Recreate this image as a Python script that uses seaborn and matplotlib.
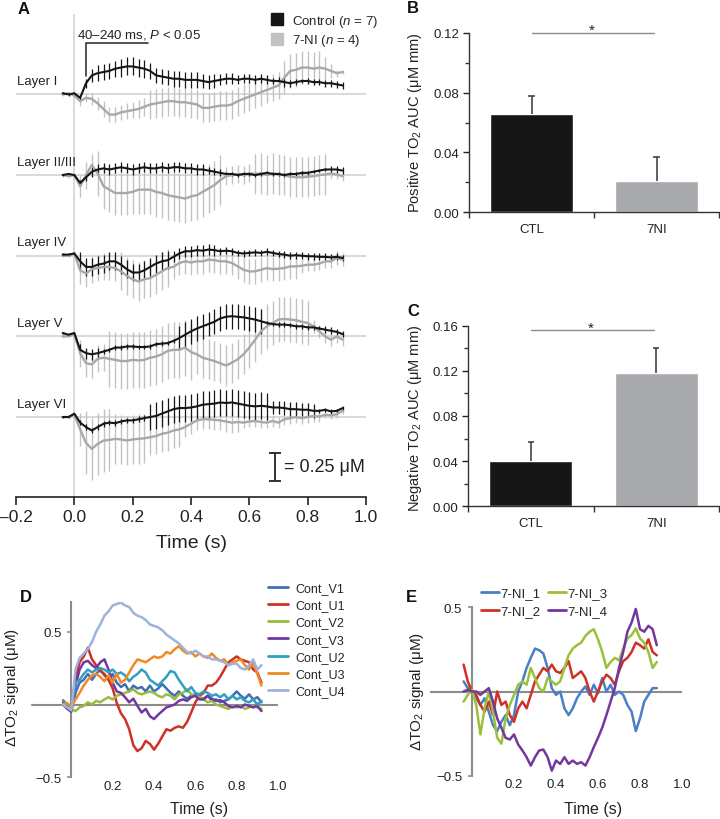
import numpy as np
import pandas as pd
import matplotlib
matplotlib.use("Agg")
import matplotlib.pyplot as plt
from matplotlib.lines import Line2D
import seaborn as sns

# ---------------- data ----------------
# panel A : mean +/- sem traces per cortical layer (uM), sampled every 20 ms
t_a = [-0.04, -0.02, 0.00, 0.02, 0.04, 0.06, 0.08, 0.10, 0.12, 0.14,
       0.16, 0.18, 0.20, 0.22, 0.24, 0.26, 0.28, 0.30, 0.32, 0.34,
       0.36, 0.38, 0.40, 0.42, 0.44, 0.46, 0.48, 0.50, 0.52, 0.54,
       0.56, 0.58, 0.60, 0.62, 0.64, 0.66, 0.68, 0.70, 0.72, 0.74,
       0.76, 0.78, 0.80, 0.82, 0.84, 0.86, 0.88, 0.90, 0.92]

layers = ["Layer I", "Layer II/III", "Layer IV", "Layer V", "Layer VI"]

l1_ctl = [0.01, 0.00, 0.01, -0.03, 0.10, 0.17, 0.19, 0.20, 0.21, 0.23, 0.24, 0.25, 0.25, 0.24, 0.23, 0.21, 0.17,
          0.16, 0.15, 0.14, 0.14, 0.13, 0.13, 0.13, 0.12, 0.11, 0.12, 0.13, 0.14, 0.14, 0.13, 0.14, 0.14, 0.13,
          0.14, 0.13, 0.12, 0.12, 0.11, 0.10, 0.11, 0.12, 0.12, 0.11, 0.11, 0.10, 0.10, 0.09, 0.08]
l1_ctl_sem = [0.01, 0.01, 0.01, 0.02, 0.04, 0.06, 0.07, 0.07, 0.07, 0.07, 0.08, 0.08, 0.08, 0.08, 0.08, 0.07, 0.07,
              0.07, 0.07, 0.07, 0.07, 0.07, 0.07, 0.07, 0.06, 0.06, 0.06, 0.05, 0.05, 0.05, 0.04, 0.04, 0.04, 0.04,
              0.04, 0.04, 0.03, 0.04, 0.04, 0.03, 0.03, 0.02, 0.03, 0.03, 0.03, 0.03, 0.03, 0.03, 0.03]
l1_ni = [0.00, 0.01, -0.01, -0.06, -0.03, -0.04, -0.08, -0.13, -0.18, -0.18, -0.16, -0.15, -0.14, -0.13, -0.11,
         -0.09, -0.08, -0.07, -0.06, -0.06, -0.07, -0.07, -0.08, -0.09, -0.12, -0.12, -0.11, -0.10, -0.10, -0.09,
         -0.06, -0.04, -0.02, 0.00, 0.02, 0.04, 0.06, 0.08, 0.15, 0.21, 0.22, 0.24, 0.24, 0.23, 0.24, 0.23, 0.21,
         0.19, 0.20]
l1_ni_sem = [0.01, 0.01, 0.01, 0.04, 0.04, 0.05, 0.06, 0.07, 0.07, 0.07, 0.07, 0.07, 0.07, 0.08, 0.08, 0.13, 0.13,
             0.13, 0.13, 0.13, 0.13, 0.13, 0.13, 0.13, 0.13, 0.13, 0.13, 0.13, 0.13, 0.13, 0.13, 0.13, 0.13, 0.12,
             0.12, 0.12, 0.12, 0.12, 0.15, 0.15, 0.15, 0.15, 0.15, 0.15, 0.15, 0.10, 0.06, 0.03, 0.02]

l2_ctl = [0.00, 0.01, 0.00, -0.07, -0.02, 0.03, 0.05, 0.06, 0.05, 0.06, 0.07, 0.06, 0.05, 0.06, 0.07, 0.06, 0.06,
          0.07, 0.06, 0.07, 0.07, 0.06, 0.06, 0.05, 0.05, 0.04, 0.03, 0.02, 0.01, 0.01, 0.00, 0.01, 0.01, 0.00,
          0.01, 0.02, 0.01, 0.01, 0.00, 0.01, 0.01, 0.02, 0.02, 0.03, 0.04, 0.05, 0.05, 0.05, 0.04]
l2_ctl_sem = [0.01, 0.01, 0.01, 0.03, 0.03, 0.045, 0.045, 0.045, 0.045, 0.045, 0.045, 0.045, 0.045, 0.045, 0.045,
              0.045, 0.045, 0.045, 0.045, 0.045, 0.045, 0.045, 0.045, 0.045, 0.045, 0.03, 0.03, 0.03, 0.015, 0.015,
              0.015, 0.015, 0.015, 0.015, 0.015, 0.015, 0.015, 0.015, 0.015, 0.015, 0.015, 0.015, 0.015, 0.015,
              0.015, 0.015, 0.03, 0.03, 0.03]
l2_ni = [0.00, -0.01, 0.00, -0.10, 0.00, 0.09, 0.015, -0.10, -0.13, -0.16, -0.16, -0.16, -0.15, -0.13, -0.13, -0.13,
         -0.15, -0.16, -0.18, -0.19, -0.20, -0.21, -0.19, -0.18, -0.15, -0.12, -0.09, -0.045, -0.01, 0.00, 0.01,
         0.00, 0.015, 0.01, 0.015, 0.00, 0.015, 0.005, 0.00, -0.015, -0.02, -0.02, -0.015, -0.01, 0.00, 0.005,
         0.015, 0.005, -0.01]
l2_ni_sem = [0.02, 0.02, 0.02, 0.10, 0.12, 0.10, 0.20, 0.20, 0.20, 0.20, 0.20, 0.20, 0.20, 0.22, 0.22, 0.22, 0.22,
             0.22, 0.22, 0.22, 0.22, 0.22, 0.22, 0.22, 0.22, 0.22, 0.22, 0.22, 0.08, 0.08, 0.08, 0.08, 0.08, 0.18,
             0.18, 0.18, 0.18, 0.18, 0.18, 0.18, 0.18, 0.18, 0.18, 0.18, 0.18, 0.18, 0.04, 0.04, 0.04]

l4_ctl = [0.01, 0.01, 0.02, -0.05, -0.10, -0.10, -0.08, -0.07, -0.05, -0.05, -0.08, -0.12, -0.15, -0.15, -0.13,
          -0.10, -0.07, -0.05, -0.04, -0.01, 0.02, 0.04, 0.04, 0.05, 0.045, 0.055, 0.05, 0.04, 0.045, 0.04, 0.025,
          0.02, 0.025, 0.03, 0.025, 0.035, 0.025, 0.015, 0.01, 0.00, 0.005, 0.00, -0.005, -0.005, -0.01, -0.01,
          -0.015, -0.01, -0.02]
l4_ctl_sem = [0.01, 0.01, 0.01, 0.08, 0.08, 0.08, 0.08, 0.08, 0.08, 0.08, 0.08, 0.08, 0.08, 0.08, 0.08, 0.08, 0.08,
              0.08, 0.08, 0.05, 0.05, 0.05, 0.05, 0.05, 0.05, 0.05, 0.05, 0.03, 0.03, 0.03, 0.03, 0.03, 0.03, 0.03,
              0.03, 0.03, 0.03, 0.03, 0.03, 0.03, 0.03, 0.03, 0.03, 0.03, 0.03, 0.03, 0.03, 0.03, 0.03]
l4_ni = [0.00, 0.00, 0.02, -0.13, -0.16, -0.12, -0.11, -0.10, -0.10, -0.11, -0.14, -0.18, -0.21, -0.23, -0.21, -0.20,
         -0.17, -0.14, -0.11, -0.10, -0.065, -0.05, -0.06, -0.05, -0.05, -0.035, -0.04, -0.05, -0.05, -0.065,
         -0.095, -0.125, -0.14, -0.14, -0.125, -0.11, -0.12, -0.115, -0.11, -0.095, -0.095, -0.09, -0.08, -0.08,
         -0.07, -0.05, -0.05, -0.02, -0.035]
l4_ni_sem = [0.01, 0.01, 0.01, 0.12, 0.12, 0.12, 0.12, 0.12, 0.12, 0.12, 0.17, 0.17, 0.17, 0.17, 0.17, 0.17, 0.17,
             0.17, 0.17, 0.11, 0.11, 0.11, 0.11, 0.11, 0.11, 0.11, 0.11, 0.11, 0.11, 0.11, 0.11, 0.11, 0.11, 0.11,
             0.11, 0.11, 0.11, 0.11, 0.11, 0.11, 0.11, 0.06, 0.06, 0.06, 0.06, 0.06, 0.06, 0.06, 0.06]

l5_ctl = [0.03, 0.015, 0.03, -0.12, -0.15, -0.16, -0.15, -0.135, -0.12, -0.10, -0.10, -0.09, -0.09, -0.095, -0.095,
          -0.09, -0.07, -0.065, -0.06, -0.04, -0.015, 0.015, 0.045, 0.07, 0.09, 0.11, 0.13, 0.16, 0.175, 0.18,
          0.175, 0.17, 0.16, 0.15, 0.135, 0.12, 0.11, 0.105, 0.105, 0.10, 0.09, 0.09, 0.08, 0.08, 0.07, 0.06,
          0.05, 0.04, 0.02]
l5_ctl_sem = [0.01, 0.01, 0.01, 0.05, 0.05, 0.05, 0.05, 0.02, 0.02, 0.02, 0.02, 0.02, 0.02, 0.02, 0.02, 0.02, 0.02,
              0.02, 0.02, 0.02, 0.11, 0.11, 0.11, 0.11, 0.11, 0.11, 0.11, 0.11, 0.11, 0.11, 0.11, 0.11, 0.11,
              0.11, 0.11, 0.02, 0.02, 0.02, 0.02, 0.02, 0.02, 0.02, 0.02, 0.02, 0.02, 0.03, 0.03, 0.03, 0.03]
l5_ni = [0.00, 0.00, 0.02, -0.15, -0.24, -0.25, -0.20, -0.19, -0.20, -0.21, -0.22, -0.22, -0.21, -0.215, -0.21,
         -0.19, -0.18, -0.16, -0.13, -0.12, -0.12, -0.10, -0.14, -0.16, -0.19, -0.205, -0.22, -0.24, -0.26, -0.235,
         -0.205, -0.16, -0.10, -0.03, 0.045, 0.09, 0.12, 0.15, 0.155, 0.15, 0.145, 0.13, 0.12, 0.09, 0.045, 0.00,
         -0.03, 0.00, -0.03]
l5_ni_sem = [0.01, 0.01, 0.01, 0.12, 0.12, 0.12, 0.12, 0.12, 0.25, 0.25, 0.25, 0.25, 0.25, 0.25, 0.25, 0.25, 0.25,
             0.25, 0.25, 0.25, 0.25, 0.25, 0.25, 0.18, 0.18, 0.18, 0.18, 0.18, 0.18, 0.18, 0.18, 0.18, 0.18, 0.20,
             0.20, 0.20, 0.20, 0.20, 0.20, 0.20, 0.20, 0.20, 0.20, 0.06, 0.06, 0.06, 0.06, 0.06, 0.06]

l6_ctl = [0.00, 0.00, 0.03, -0.05, -0.09, -0.12, -0.09, -0.06, -0.05, -0.055, -0.04, -0.03, -0.03, -0.02, -0.01,
          0.00, 0.01, 0.03, 0.05, 0.07, 0.08, 0.08, 0.085, 0.095, 0.11, 0.115, 0.12, 0.13, 0.125, 0.13, 0.12, 0.11,
          0.10, 0.095, 0.10, 0.095, 0.085, 0.085, 0.08, 0.07, 0.07, 0.065, 0.065, 0.055, 0.055, 0.065, 0.05,
          0.055, 0.08]
l6_ctl_sem = [0.01, 0.01, 0.01, 0.025, 0.025, 0.025, 0.025, 0.025, 0.025, 0.025, 0.025, 0.025, 0.025, 0.025, 0.025,
              0.12, 0.12, 0.12, 0.12, 0.12, 0.12, 0.12, 0.12, 0.12, 0.12, 0.12, 0.12, 0.12, 0.12, 0.12, 0.12, 0.12,
              0.12, 0.12, 0.12, 0.12, 0.06, 0.06, 0.06, 0.06, 0.06, 0.06, 0.06, 0.06, 0.02, 0.02, 0.02, 0.02, 0.02]
l6_ni = [0.00, 0.00, 0.02, -0.11, -0.23, -0.285, -0.24, -0.21, -0.205, -0.195, -0.20, -0.21, -0.20, -0.195, -0.19,
         -0.18, -0.17, -0.15, -0.14, -0.12, -0.11, -0.09, -0.06, -0.03, -0.02, -0.02, -0.025, -0.03, -0.04, -0.05,
         -0.045, -0.05, -0.04, -0.035, -0.045, -0.05, -0.035, -0.05, -0.02, -0.01, 0.00, -0.01, 0.00, 0.01,
         0.005, 0.02, 0.015, 0.025, 0.055]
l6_ni_sem = [0.01, 0.01, 0.01, 0.15, 0.28, 0.28, 0.28, 0.28, 0.28, 0.22, 0.22, 0.22, 0.22, 0.22, 0.22, 0.16, 0.16,
             0.16, 0.16, 0.16, 0.16, 0.09, 0.09, 0.09, 0.09, 0.09, 0.09, 0.09, 0.09, 0.09, 0.09, 0.05, 0.05, 0.05,
             0.05, 0.05, 0.05, 0.05, 0.05, 0.05, 0.05, 0.05, 0.05, 0.05, 0.05, 0.03, 0.03, 0.03, 0.03]

ctl_means = [l1_ctl, l2_ctl, l4_ctl, l5_ctl, l6_ctl]
ctl_sems = [l1_ctl_sem, l2_ctl_sem, l4_ctl_sem, l5_ctl_sem, l6_ctl_sem]
ni_means = [l1_ni, l2_ni, l4_ni, l5_ni, l6_ni]
ni_sems = [l1_ni_sem, l2_ni_sem, l4_ni_sem, l5_ni_sem, l6_ni_sem]

# panels B, C : area under curve
groups = ["CTL", "7NI"]
pos_auc = [0.066, 0.021]
pos_sem = [0.012, 0.016]
neg_auc = [0.040, 0.118]
neg_sem = [0.017, 0.022]
b_yticks = [0.00, 0.04, 0.08, 0.12]
c_yticks = [0.00, 0.04, 0.08, 0.12, 0.16]

# panel D : individual control traces
t_d = t_a
cont_names = ["Cont_V1", "Cont_U1", "Cont_V2", "Cont_V3", "Cont_U2", "Cont_U3", "Cont_U4"]
cont_v1 = [0.02, 0.0, -0.04, 0.08, 0.15, 0.17, 0.21, 0.17, 0.21, 0.24, 0.20, 0.17, 0.21, 0.15, 0.12, 0.14, 0.09,
           0.13, 0.11, 0.12, 0.09, 0.13, 0.09, 0.11, 0.14, 0.11, 0.08, 0.06, 0.09, 0.06, 0.04, 0.06, 0.07, 0.05,
           0.04, 0.06, 0.025, 0.035, 0.015, 0.025, 0.035, 0.06, 0.09, 0.06, 0.04, 0.07, 0.035, 0.05, 0.015]
cont_u1 = [0.01, 0.0, -0.02, 0.17, 0.29, 0.33, 0.39, 0.31, 0.27, 0.23, 0.21, 0.17, 0.11, 0.01, -0.06, -0.10, -0.17,
           -0.28, -0.32, -0.30, -0.25, -0.27, -0.31, -0.27, -0.22, -0.17, -0.18, -0.16, -0.15, -0.16, -0.12,
           -0.055, 0.015, 0.06, 0.08, 0.13, 0.13, 0.15, 0.19, 0.24, 0.29, 0.31, 0.33, 0.31, 0.30, 0.29, 0.24,
           0.22, 0.15]
cont_v2 = [0.0, -0.02, -0.03, -0.045, -0.02, -0.01, 0.015, 0.0, 0.025, 0.015, 0.035, 0.05, 0.035, 0.06, 0.07, 0.08,
           0.09, 0.105, 0.08, 0.07, 0.08, 0.09, 0.08, 0.06, 0.05, 0.07, 0.06, 0.035, 0.07, 0.08, 0.105, 0.07, 0.06,
           0.05, 0.035, 0.015, 0.025, 0.0, -0.01, -0.02, -0.03, -0.01, -0.02, -0.01, -0.03, -0.02, -0.01, -0.02,
           -0.03]
cont_v3 = [0.0, -0.03, -0.05, 0.13, 0.24, 0.29, 0.30, 0.27, 0.25, 0.29, 0.31, 0.24, 0.15, 0.09, 0.08, 0.05, 0.015,
           0.04, -0.01, -0.055, -0.03, -0.08, -0.10, -0.07, -0.045, -0.02, -0.01, 0.0, 0.025, 0.035, 0.025, 0.05,
           0.06, 0.035, 0.035, 0.06, 0.04, 0.025, 0.03, 0.015, -0.01, -0.02, -0.01, -0.02, 0.0, -0.01, -0.02,
           -0.01, -0.045]
cont_u2 = [0.03, 0.0, -0.03, 0.15, 0.17, 0.21, 0.24, 0.22, 0.24, 0.25, 0.24, 0.22, 0.24, 0.21, 0.22, 0.20, 0.16,
           0.19, 0.21, 0.24, 0.22, 0.17, 0.15, 0.13, 0.16, 0.19, 0.23, 0.22, 0.17, 0.13, 0.09, 0.12, 0.08, 0.07,
           0.09, 0.08, 0.06, 0.07, 0.05, 0.07, 0.035, 0.06, 0.035, 0.05, 0.025, 0.015, 0.035, 0.0, 0.025]
cont_u3 = [0.0, 0.01, -0.02, 0.035, 0.08, 0.13, 0.17, 0.20, 0.21, 0.19, 0.16, 0.20, 0.15, 0.21, 0.15, 0.17, 0.22,
           0.27, 0.31, 0.30, 0.29, 0.31, 0.33, 0.32, 0.33, 0.36, 0.35, 0.38, 0.40, 0.37, 0.35, 0.36, 0.33, 0.35,
           0.33, 0.32, 0.35, 0.32, 0.30, 0.31, 0.27, 0.29, 0.30, 0.31, 0.27, 0.24, 0.29, 0.21, 0.13]
cont_u4 = [0.0, -0.02, -0.04, 0.24, 0.32, 0.35, 0.38, 0.43, 0.50, 0.55, 0.61, 0.64, 0.68, 0.69, 0.70, 0.68, 0.67,
           0.63, 0.61, 0.60, 0.58, 0.55, 0.54, 0.53, 0.51, 0.48, 0.46, 0.44, 0.42, 0.39, 0.36, 0.35, 0.37, 0.35,
           0.33, 0.33, 0.31, 0.31, 0.30, 0.29, 0.27, 0.28, 0.28, 0.25, 0.24, 0.27, 0.31, 0.24, 0.27]
cont_traces = [cont_v1, cont_u1, cont_v2, cont_v3, cont_u2, cont_u3, cont_u4]
cont_colors = ["#3f6fb6", "#cf3126", "#9bbb3b", "#7338a0", "#2f9fc2", "#f08a24", "#9db2de"]

# panel E : individual 7-NI traces
t_e = [-0.04, -0.02, 0.00, 0.02, 0.04, 0.06, 0.08, 0.10, 0.12, 0.14,
       0.16, 0.18, 0.20, 0.22, 0.24, 0.26, 0.28, 0.30, 0.32, 0.34,
       0.36, 0.38, 0.40, 0.42, 0.44, 0.46, 0.48, 0.50, 0.52, 0.54,
       0.56, 0.58, 0.60, 0.62, 0.64, 0.66, 0.68, 0.70, 0.72, 0.74,
       0.76, 0.78, 0.80, 0.82, 0.84, 0.86, 0.88]
ni_names = ["7-NI_1", "7-NI_2", "7-NI_3", "7-NI_4"]
ni_1 = [0.06, 0.02, 0.0, -0.04, -0.08, -0.04, -0.12, -0.20, -0.235, -0.18, -0.14, -0.20, -0.14, 0.0, 0.06, 0.14,
        0.20, 0.255, 0.245, 0.225, 0.14, 0.02, -0.02, 0.0, -0.10, -0.14, -0.10, -0.04, 0.0, 0.03, -0.02, 0.04,
        -0.01, 0.08, 0.0, 0.04, -0.02, 0.0, -0.02, -0.08, -0.12, -0.235, -0.16, -0.06, -0.02, 0.02, 0.02]
ni_2 = [0.16, 0.06, 0.0, -0.02, -0.08, -0.12, -0.06, -0.14, 0.0, -0.08, -0.06, -0.14, -0.18, -0.10, -0.06, -0.10,
        -0.02, 0.06, 0.10, 0.14, 0.12, 0.16, 0.12, 0.11, 0.14, 0.18, 0.08, 0.10, 0.12, 0.08, 0.0, -0.06, 0.0, 0.06,
        0.10, 0.08, 0.04, 0.12, 0.18, 0.20, 0.235, 0.29, 0.275, 0.255, 0.31, 0.235, 0.215]
ni_3 = [-0.06, -0.02, 0.01, -0.08, -0.255, -0.10, 0.0, -0.12, -0.275, -0.31, -0.16, -0.08, -0.02, 0.04, 0.06, 0.04,
        0.14, 0.08, 0.02, 0.0, 0.08, 0.06, 0.04, 0.06, 0.14, 0.215, 0.255, 0.275, 0.29, 0.33, 0.355, 0.37, 0.31,
        0.235, 0.14, 0.175, 0.20, 0.185, 0.255, 0.315, 0.335, 0.375, 0.315, 0.29, 0.235, 0.14, 0.175]
ni_4 = [0.0, 0.01, 0.0, 0.0, -0.02, 0.0, 0.02, -0.06, -0.16, -0.215, -0.275, -0.285, -0.255, -0.315, -0.35, -0.39,
        -0.44, -0.39, -0.35, -0.345, -0.39, -0.47, -0.41, -0.43, -0.39, -0.43, -0.41, -0.43, -0.42, -0.44, -0.39,
        -0.33, -0.275, -0.215, -0.14, -0.06, 0.02, 0.14, 0.235, 0.355, 0.41, 0.49, 0.37, 0.355, 0.39, 0.37, 0.275]
ni_traces = [ni_1, ni_2, ni_3, ni_4]
ni_colors = ["#4a7fc8", "#cf3126", "#9bc03c", "#7338a0"]

tick_labels_de = ["0.2", "0.4", "0.6", "0.8", "1.0"]

# ---------------- style ----------------
sns.set_theme(style="ticks")
plt.rcParams["font.family"] = ["Liberation Sans", "DejaVu Sans"]
plt.rcParams["mathtext.fontset"] = "custom"
plt.rcParams["mathtext.rm"] = "Liberation Sans"
plt.rcParams["mathtext.it"] = "Liberation Sans:italic"
plt.rcParams["mathtext.bf"] = "Liberation Sans:bold"

W, H = 720, 820
fig = plt.figure(figsize=(W / 100, H / 100), dpi=100)


def box(l, t, r, b):
    return [l / W, 1 - b / H, (r - l) / W, (b - t) / H]


def fpt(x, y):
    return (x / W, 1 - y / H)


BLACK = "#161616"
GREY_LINE = "#a8a8a8"
GREY_BAR = "#c2c2c2"

# ---------------- panel A ----------------
axA = fig.add_axes(box(16, 15, 366, 498))
layer_gap = 0.72
offsets = [layer_gap * (4 - i) for i in range(5)]
axA.set_xlim(-0.2, 1.0)
axA.set_ylim(-0.714, 3.598)
axA.axvline(0, color="#cfcfcf", lw=1.1, zorder=0)
ta = np.array(t_a)
for i, off in enumerate(offsets):
    axA.axhline(off, color="#cfcfcf", lw=1.1, zorder=0)
    cm, cs = np.array(ctl_means[i]) + off, np.array(ctl_sems[i])
    nm, ns = np.array(ni_means[i]) + off, np.array(ni_sems[i])
    axA.vlines(ta, nm - ns, nm + ns, color=GREY_BAR, lw=1.0, zorder=1)
    axA.vlines(ta, cm - cs, cm + cs, color=BLACK, lw=0.9, zorder=2)
    sns.lineplot(x=ta, y=nm, color=GREY_LINE, lw=1.7, ax=axA, zorder=3)
    sns.lineplot(x=ta, y=cm, color=BLACK, lw=1.5, ax=axA, zorder=4)
    axA.text(-0.197, off + 0.12, layers[i], fontsize=9.5, ha="left", va="center", color="#222")

axA.spines[["left", "top", "right"]].set_visible(False)
axA.spines["bottom"].set_color("#222")
axA.spines["bottom"].set_linewidth(1.2)
axA.set_yticks([])
a_ticks = [-0.2, 0.0, 0.2, 0.4, 0.6, 0.8, 1.0]
axA.set_xticks(a_ticks)
axA.set_xticklabels([f"{v:.1f}".replace("-", "\u2013") for v in a_ticks])
axA.tick_params(axis="x", direction="out", length=6, width=1.2, labelsize=12.5, pad=3, colors="#222")
axA.set_xlabel("Time (s)", fontsize=14, labelpad=7, color="#222")
axA.set_ylabel("")

# significance bracket
axA.plot([0.04, 0.04, 0.252], [3.045, 3.34, 3.34], color="#222", lw=1.1)
axA.text(0.009, 3.36, "40\u2013240 ms, $P$ < 0.05", fontsize=9.5, ha="left", va="bottom", color="#222")

# scale bar
axA.errorbar([0.688], [-0.446], yerr=[0.125], fmt="none", ecolor="#222", elinewidth=1.3,
             capsize=4.5, capthick=1.3)
axA.text(0.72, -0.446, "= 0.25 \u03bcM", fontsize=13, ha="left", va="center", color="#222")

a_handles = [Line2D([], [], marker="s", ls="none", markersize=8.5, color=BLACK),
             Line2D([], [], marker="s", ls="none", markersize=8.5, color=GREY_BAR)]
axA.legend(a_handles, ["Control ($n$ = 7)", "7-NI ($n$ = 4)"], loc="upper left",
           bbox_to_anchor=fpt(270, 14), bbox_transform=fig.transFigure, frameon=False,
           fontsize=9.5, handlelength=1.0, handletextpad=0.65, labelspacing=0.25,
           borderpad=0, borderaxespad=0)


# ---------------- panels B, C ----------------
def auc_panel(ax, vals, sems, yticks, sig_y):
    sns.barplot(x=groups, y=vals, hue=groups, palette=[BLACK, "#a9aaad"], width=0.66,
                saturation=1, errorbar=None, legend=False, ax=ax)
    tops = [v + s for v, s in zip(vals, sems)]
    ax.vlines([0, 1], vals, tops, color="#444", lw=1.2)
    ax.hlines(tops, [-0.025, 0.975], [0.025, 1.025], color="#444", lw=1.2)
    ax.set_xlim(-0.5, 1.5)
    ax.set_ylim(0, yticks[-1])
    ax.set_yticks(yticks)
    ax.set_yticklabels([f"{v:.2f}" for v in yticks])
    ax.set_yticks([v + 0.02 for v in yticks[:-1]], minor=True)
    ax.set_xticks([0, 1])
    ax.set_xticklabels(groups)
    ax.set_xticks([-0.5, 0.5, 1.5], minor=True)
    ax.tick_params(axis="x", which="major", length=0, pad=8, labelsize=9.5, colors="#222")
    ax.tick_params(axis="x", which="minor", length=4, width=1, direction="out", color="#333")
    ax.tick_params(axis="y", which="major", length=4, width=1, labelsize=9.5, pad=3, colors="#222")
    ax.tick_params(axis="y", which="minor", length=3, width=1, color="#333")
    ax.spines[["top", "right"]].set_visible(False)
    for s in ["left", "bottom"]:
        ax.spines[s].set_color("#333")
        ax.spines[s].set_linewidth(1.0)
    ax.set_xlabel("")
    ax.set_ylabel("")
    ax.plot([0, 0.98], [sig_y, sig_y], color="#8c8c8c", lw=1.0, clip_on=False)
    ax.annotate("*", (0.48, sig_y), xytext=(0, -3), textcoords="offset points",
                fontsize=11, ha="center", va="bottom", color="#222")


axB = fig.add_axes(box(469, 34, 719, 213))
auc_panel(axB, pos_auc, pos_sem, b_yticks, 0.12)
axC = fig.add_axes(box(468, 326.7, 719, 507.3))
auc_panel(axC, neg_auc, neg_sem, c_yticks, 0.156)

fig.text(*fpt(415, 123), "Positive TO$_2$ AUC (\u03bcM mm)", rotation=90, ha="center", va="center",
         fontsize=10.5, color="#222")
fig.text(*fpt(415, 418), "Negative TO$_2$ AUC (\u03bcM mm)", rotation=90, ha="center", va="center",
         fontsize=10.5, color="#222")


# ---------------- panels D, E ----------------
def trace_panel(ax, t, traces, names, colors, ylim):
    df = pd.DataFrame({"t": np.tile(t, len(traces)),
                       "v": np.concatenate(traces),
                       "trace": np.repeat(names, len(t))})
    sns.lineplot(data=df, x="t", y="v", hue="trace", palette=dict(zip(names, colors)),
                 lw=1.8, estimator=None, legend=False, ax=ax, zorder=3)
    ax.set_xlim(-0.2, 1.0)
    ax.set_ylim(*ylim)
    ax.spines[["top", "right", "bottom"]].set_visible(False)
    ax.spines["left"].set_position(("data", 0))
    ax.spines["left"].set_color("#8c8c8c")
    ax.spines["left"].set_linewidth(1.5)
    ax.set_yticks([-0.5, 0.5])
    ax.set_yticklabels(["\u22120.5", "0.5"])
    ax.set_xticks([0.2, 0.4, 0.6, 0.8, 1.0])
    ax.set_xticklabels(tick_labels_de)
    ax.tick_params(axis="x", length=0, pad=2, labelsize=9.5, colors="#222")
    ax.tick_params(axis="y", length=3, width=1.2, color="#8c8c8c", labelsize=9.5, pad=4, labelcolor="#222")
    ax.set_xlabel("")
    ax.set_ylabel("")


axD = fig.add_axes(box(30, 603, 278, 778.3))
trace_panel(axD, t_d, cont_traces, cont_names, cont_colors, (-0.5, 0.704))
axD.plot([-0.19, 1.0], [0, 0], color="#8c8c8c", lw=1.5, zorder=1)
axD.legend([Line2D([], [], color=c, lw=2) for c in cont_colors], cont_names, loc="upper left",
           bbox_to_anchor=fpt(268, 583), bbox_transform=fig.transFigure, frameon=False, fontsize=9,
           handlelength=1.6, handletextpad=0.55, labelspacing=0.42, borderpad=0, borderaxespad=0)

axE = fig.add_axes(box(430, 608.3, 682, 776.7))
trace_panel(axE, t_e, ni_traces, ni_names, ni_colors, (-0.5, 0.5))
axE.axhline(0, color="#8c8c8c", lw=1.5, zorder=1)
axE.legend([Line2D([], [], color=c, lw=2) for c in ni_colors], ni_names, loc="upper left", ncol=2,
           bbox_to_anchor=fpt(481, 588), bbox_transform=fig.transFigure, frameon=False, fontsize=9.5,
           handlelength=1.4, handletextpad=0.1, columnspacing=0.5, labelspacing=0.45,
           borderpad=0, borderaxespad=0)

fig.text(*fpt(12, 688), "\u0394TO$_2$ signal (\u03bcM)", rotation=90, ha="center", va="center",
         fontsize=11, color="#222")
fig.text(*fpt(417, 692), "\u0394TO$_2$ signal (\u03bcM)", rotation=90, ha="center", va="center",
         fontsize=11, color="#222")
fig.text(*fpt(199, 810), "Time (s)", ha="center", va="center", fontsize=11.5, color="#222")
fig.text(*fpt(593, 810), "Time (s)", ha="center", va="center", fontsize=11.5, color="#222")

# panel letters
for letter, (x, y) in zip("ABCDE", [(18, 2), (407, 1), (407, 304), (20, 590), (406, 590)]):
    fig.text(*fpt(x, y), letter, fontsize=12, fontweight="bold", ha="left", va="top", color="#111")

fig.savefig("out.png", dpi=100)
